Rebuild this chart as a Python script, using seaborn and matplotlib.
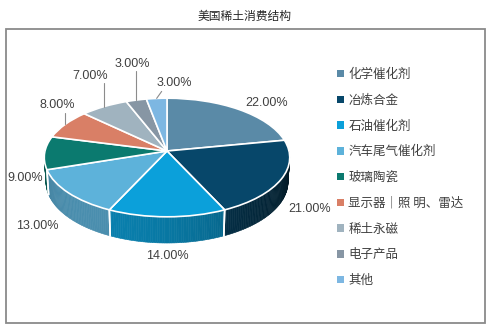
import numpy as np
import matplotlib
matplotlib.use("Agg")
import matplotlib.pyplot as plt
import seaborn as sns
from matplotlib.transforms import Transform
from matplotlib.patches import Patch, Rectangle

# ---------------- data ----------------
title = "美国稀土消费结构"
categories = ["化学催化剂", "冶炼合金", "石油催化剂", "汽车尾气催化剂", "玻璃陶瓷",
              "显示器｜照 明、雷达", "稀土永磁", "电子产品", "其他"]
shares = [22, 21, 14, 13, 9, 8, 7, 3, 3]
value_labels = ["22.00%", "21.00%", "14.00%", "13.00%", "9.00%",
                "8.00%", "7.00%", "3.00%", "3.00%"]
colors = ["#5a8aa7", "#07476a", "#0ba0da", "#5db2da", "#0b7a6f",
          "#d97f66", "#a0b3bf", "#8796a4", "#7db7e2"]

# ---------------- layout ----------------
W, H = 491, 327
CX, CY, S = 167, 151, 122
ELEV = np.radians(28.7)
DIST = 8.0
DEPTH = 0.23
label_offsets = [(28, -6), (30, 5), (0, 13), (-32, 8), (-21, 1),
                 (-8, -19), (-14, -31), (-4, -36), (18, -15)]
leaders = [None, None, None, None, None, (0, 8), (0, 7), (0, 7), (5, 8)]


def project(X, Y, Z=0.0):
    s, c = np.sin(ELEV), np.cos(ELEV)
    depth = Y * c - Z * s + DIST
    u = X * DIST / depth
    v = (Y * s + Z * c) * DIST / depth
    return CX + S * u, CY - S * v


class PieProjection(Transform):
    input_dims = 2
    output_dims = 2
    is_separable = False
    has_inverse = False

    def __init__(self, z=0.0):
        super().__init__()
        self.z = z

    def transform_non_affine(self, values):
        v = np.asarray(values, float)
        x, y = project(v[:, 0], v[:, 1], self.z)
        return np.column_stack([x, y])


def shade(color, f):
    rgb = np.array(matplotlib.colors.to_rgb(color))
    return tuple(np.clip(rgb * f, 0, 1))


sns.set_theme(style="white")
plt.rcParams["font.family"] = ["Noto Sans CJK SC", "DejaVu Sans"]

fig = plt.figure(figsize=(W / 100, H / 100), dpi=100)
ax = fig.add_axes([0, 0, 1, 1])

wedges, _ = ax.pie(shares, colors=colors, startangle=90, counterclock=False,
                   radius=1, center=(0, 0),
                   wedgeprops=dict(edgecolor="white", linewidth=1.2))
ax.set_aspect("auto")
ax.set_xlim(0, W)
ax.set_ylim(H, 0)
ax.axis("off")

for w in wedges:
    w.set_transform(PieProjection(0.0) + ax.transData)
    w.set_zorder(3)

# side walls (front half of the cylinder)
for w, col in zip(wedges, colors):
    t1, t2 = np.radians(w.theta1), np.radians(w.theta2)
    ts = np.linspace(t1, t2, max(int(np.degrees(t2 - t1)), 2) + 1)
    for a, b in zip(ts[:-1], ts[1:]):
        m = 0.5 * (a + b)
        if np.sin(m) >= 0:
            continue
        seg = np.array([a, b])
        xt, yt = project(np.cos(seg), np.sin(seg), 0.0)
        xb, yb = project(np.cos(seg), np.sin(seg), -DEPTH)
        f = 0.5 + 0.3 * np.cos(m - np.radians(235))
        c = shade(col, f)
        ax.fill([xt[0], xt[1], xb[1], xb[0]], [yt[0], yt[1], yb[1], yb[0]],
                color=c, lw=0.4, ec=c, zorder=1)
    for bnd in (t1, t2):
        if np.sin(bnd) < -1e-6:
            x0, y0 = project(np.cos(bnd), np.sin(bnd), 0.0)
            x1, y1 = project(np.cos(bnd), np.sin(bnd), -DEPTH)
            ax.plot([x0, x1], [y0, y1], color="white", lw=1.2, zorder=2)

# value labels
for w, lab, (dx, dy), ld in zip(wedges, value_labels, label_offsets, leaders):
    m = np.radians(0.5 * (w.theta1 + w.theta2))
    z = -DEPTH if np.sin(m) < 0 else 0.0
    ax_, ay_ = project(np.cos(m), np.sin(m), z)
    lx, ly = ax_ + dx, ay_ + dy
    ax.text(lx, ly, lab, ha="center", va="center", fontsize=9,
            family=["Liberation Sans", "DejaVu Sans"], color="#404040", zorder=5)
    if ld is not None:
        ax.plot([ax_, ax_ + ld[0]], [ay_, ly + ld[1]], color="#8c8c8c", lw=0.8, zorder=4)

# title & border
ax.text(245, 16, title, ha="center", va="center", fontsize=8.5, color="#262626")
ax.add_patch(Rectangle((6, 29), 479, 294, fill=False, ec="#8a8a8a", lw=1.3, zorder=0))

handles = [Patch(facecolor=c, edgecolor="none") for c in colors]
ax.legend(handles, categories, loc="upper left", bbox_to_anchor=(337, 68),
          bbox_transform=ax.transData, frameon=False, fontsize=9,
          handlelength=0.55, handleheight=0.55, handletextpad=0.35,
          labelspacing=1.02, borderpad=0, borderaxespad=0, labelcolor="#404040")

fig.savefig("out.png", dpi=100)
